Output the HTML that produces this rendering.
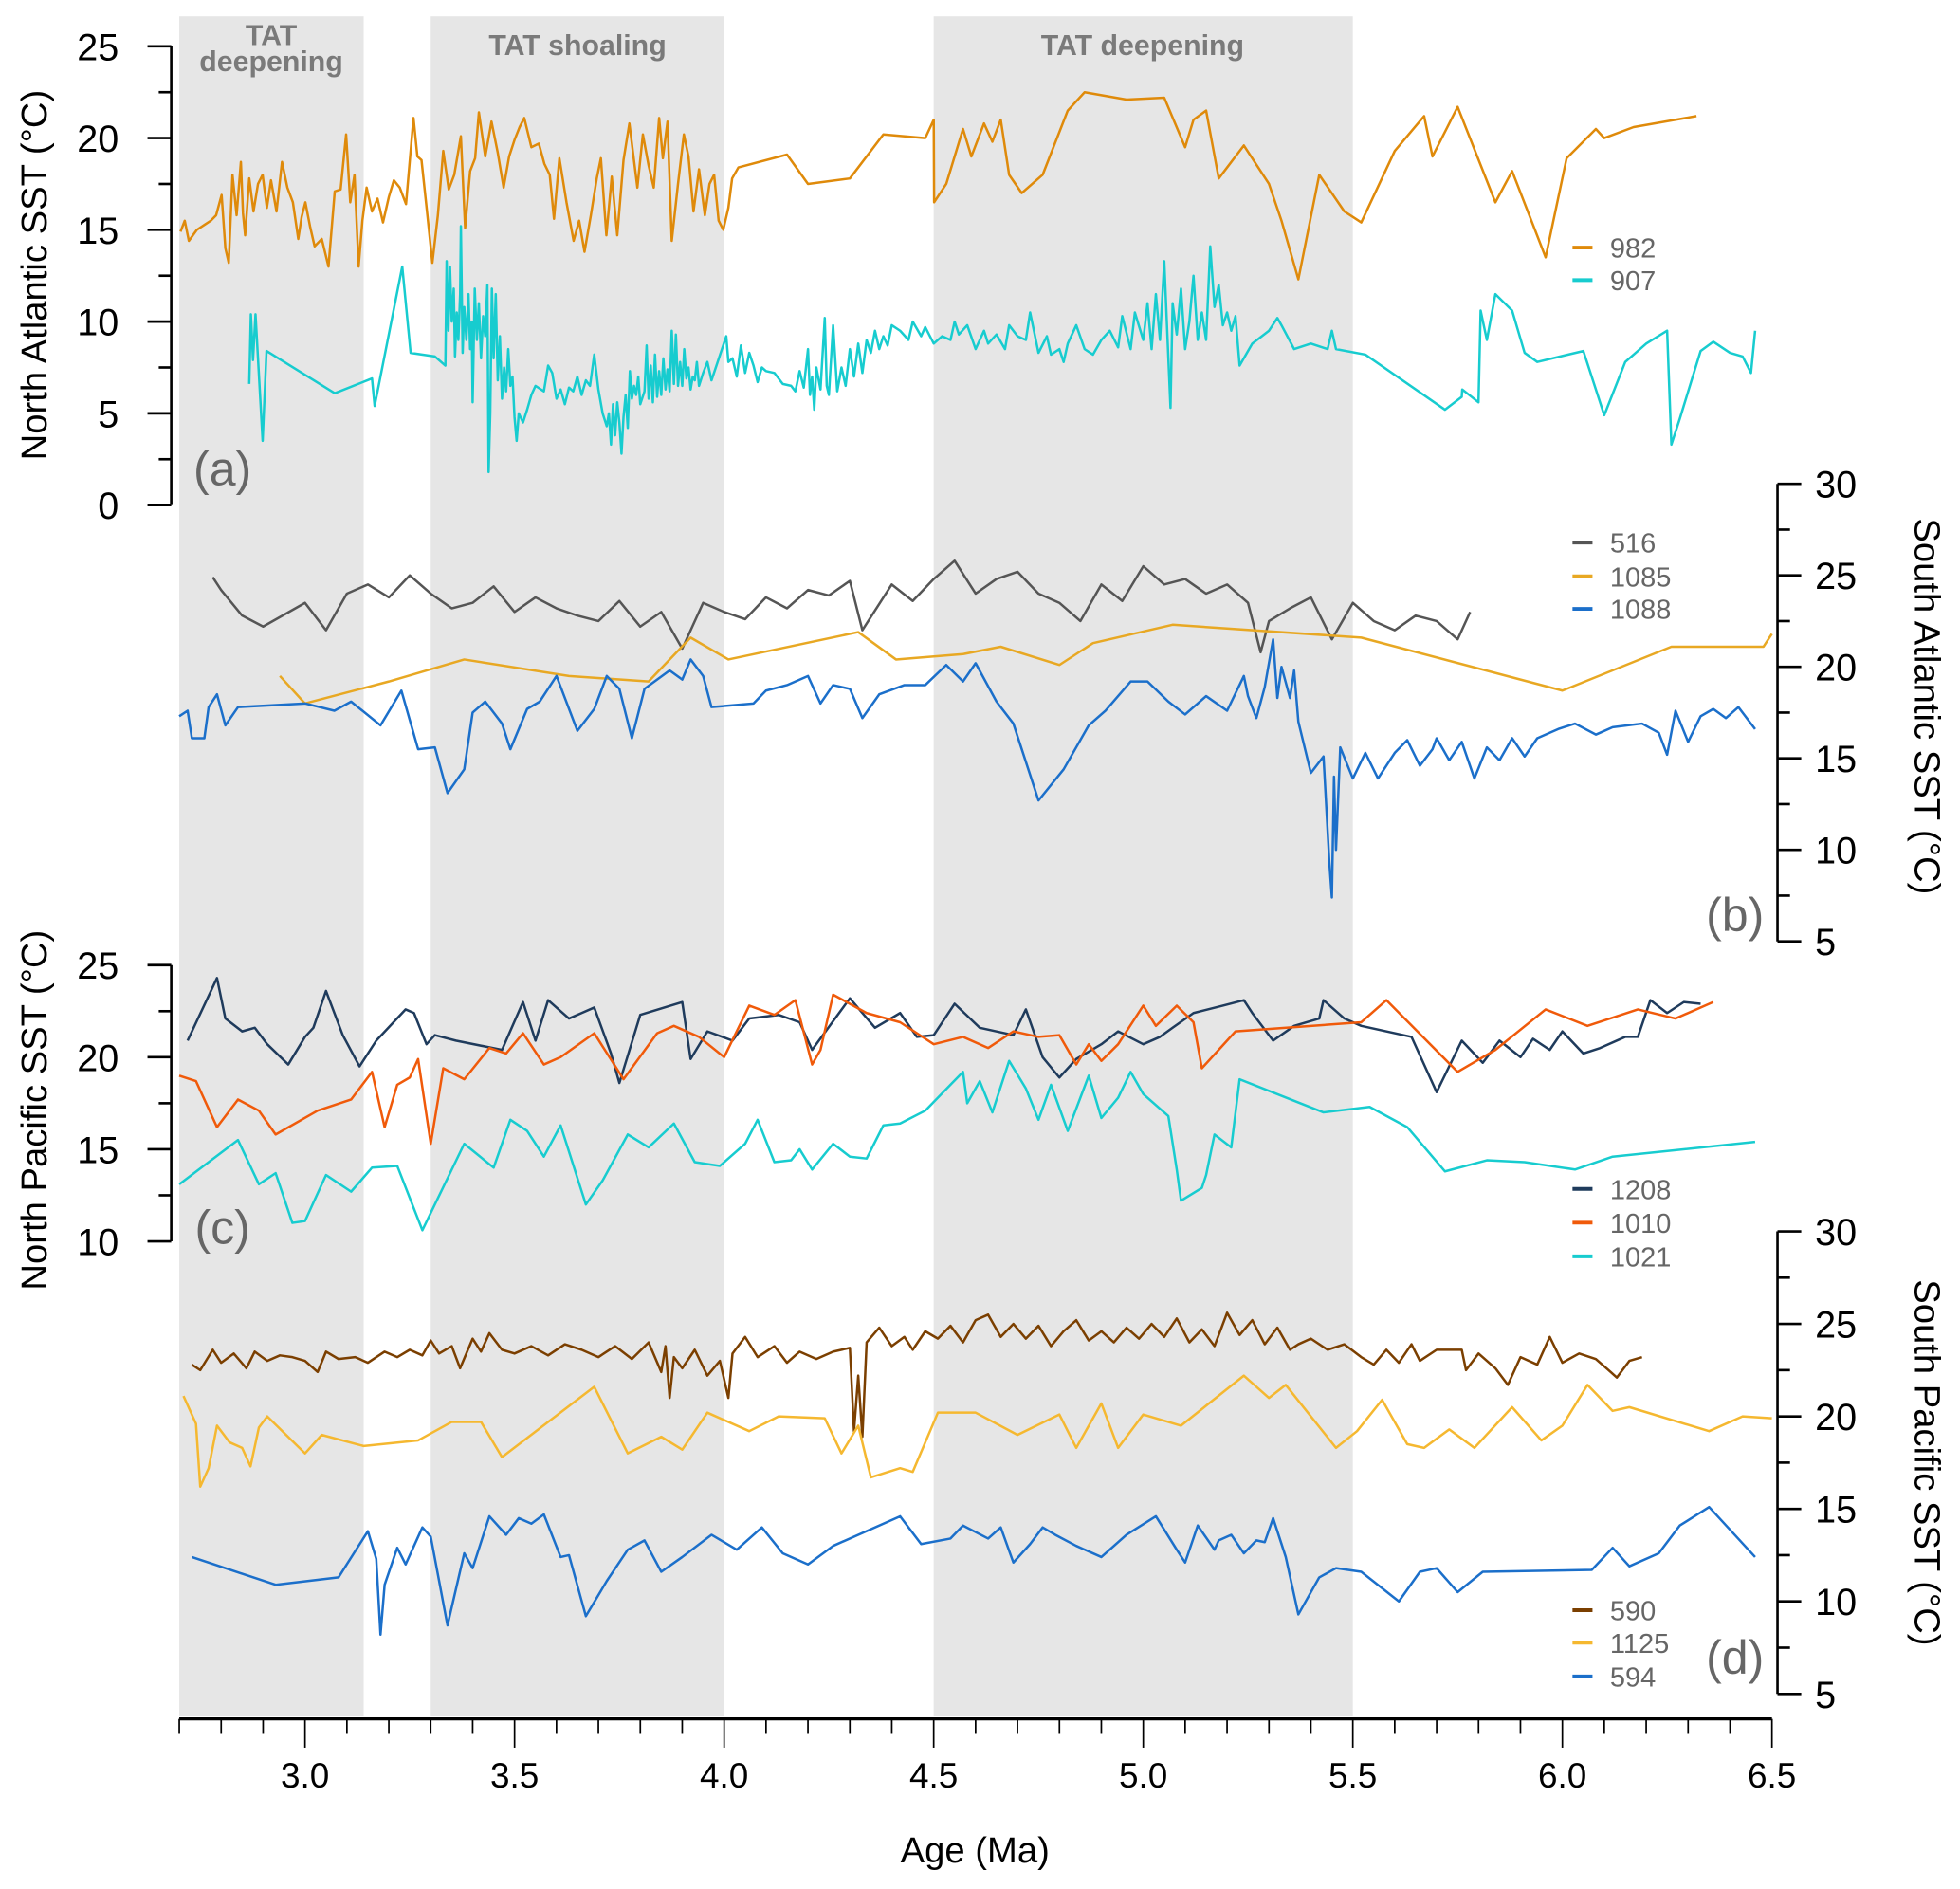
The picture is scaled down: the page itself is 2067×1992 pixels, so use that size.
<!DOCTYPE html>
<html><head><meta charset="utf-8">
<style>
html,body{margin:0;padding:0;background:#fff;}
svg{display:block;}
text{font-family:"Liberation Sans",sans-serif;}
</style></head>
<body>
<svg id="chart" width="2067" height="1992" viewBox="0 0 1568 1511" xmlns="http://www.w3.org/2000/svg">
<g id="shades"></g>
<g id="series"></g>
<g id="axes"></g>
<g id="labels"></g>
</svg>
<script>
// ---------- data ----------
const shadeStarts = [2.7, 3.3, 4.5];
const shadeEnds = [3.14, 4.0, 5.5];
const xTicksMajor = [3.0, 3.5, 4.0, 4.5, 5.0, 5.5, 6.0, 6.5];
const xTickLabels = ["3.0","3.5","4.0","4.5","5.0","5.5","6.0","6.5"];
const ticksA = [0,5,10,15,20,25];
const ticksB = [5,10,15,20,25,30];
const ticksC = [10,15,20,25];
const ticksD = [5,10,15,20,25,30];

const age982 = [2.703,2.713,2.723,2.742,2.762,2.775,2.788,2.801,2.81,2.818,2.827,2.837,2.847,2.852,2.857,2.867,2.877,2.888,2.899,2.909,2.919,2.932,2.945,2.958,2.971,2.984,2.992,3.001,3.012,3.023,3.04,3.056,3.071,3.085,3.098,3.108,3.118,3.128,3.137,3.147,3.16,3.173,3.186,3.2,3.212,3.226,3.241,3.259,3.268,3.278,3.291,3.304,3.317,3.330,3.343,3.356,3.372,3.382,3.394,3.406,3.415,3.43,3.445,3.46,3.474,3.487,3.500,3.512,3.523,3.54,3.558,3.571,3.584,3.594,3.607,3.624,3.641,3.654,3.667,3.682,3.696,3.706,3.719,3.732,3.745,3.76,3.774,3.793,3.806,3.82,3.832,3.845,3.854,3.865,3.875,3.89,3.904,3.915,3.927,3.94,3.954,3.965,3.976,3.987,3.998,4.01,4.019,4.034,4.15,4.2,4.3,4.38,4.48,4.5,4.501,4.53,4.57,4.59,4.62,4.64,4.66,4.68,4.71,4.76,4.82,4.86,4.96,5.05,5.1,5.12,5.15,5.18,5.24,5.3,5.33,5.37,5.42,5.48,5.52,5.6,5.67,5.69,5.75,5.84,5.88,5.96,6.01,6.08,6.1,6.17,6.32];
const val982 = [14.9,15.5,14.4,15.0,15.3,15.5,15.8,16.9,14.0,13.2,18.0,15.8,18.7,15.9,14.7,17.8,16.0,17.5,18.0,16.2,17.7,16.0,18.7,17.3,16.5,14.5,15.7,16.5,15.2,14.1,14.5,13.0,17.1,17.2,20.2,16.5,18.0,13.0,15.5,17.3,16.0,16.7,15.4,16.8,17.7,17.3,16.4,21.1,19.0,18.8,16.0,13.2,15.8,19.3,17.2,18.0,20.1,15.1,18.2,18.9,21.4,19.0,20.9,19.2,17.3,19.0,19.9,20.6,21.1,19.5,19.7,18.6,18.0,15.6,18.9,16.5,14.4,15.5,13.8,15.8,17.8,18.9,14.7,17.9,14.7,18.8,20.8,17.3,20.2,18.5,17.3,21.1,18.9,20.9,14.4,17.5,20.2,19.0,16.0,18.3,15.8,17.5,18.0,15.5,15.0,16.2,17.8,18.4,19.1,17.5,17.8,20.2,20.0,21.0,16.5,17.5,20.5,19.0,20.8,19.8,21.0,18.0,17.0,18.0,21.5,22.5,22.1,22.2,19.5,21.0,21.5,17.8,19.6,17.5,15.5,12.3,18.0,16.0,15.4,19.3,21.2,19.0,21.7,16.5,18.2,13.5,18.9,20.5,20.0,20.6,21.2];

const age907 = [2.867,2.871,2.876,2.882,2.899,2.908,3.071,3.16,3.166,3.232,3.252,3.31,3.335,3.338,3.342,3.346,3.35,3.355,3.358,3.362,3.366,3.370,3.372,3.376,3.38,3.385,3.39,3.394,3.398,3.40,3.405,3.41,3.415,3.42,3.425,3.43,3.435,3.438,3.442,3.446,3.45,3.455,3.46,3.465,3.47,3.475,3.48,3.485,3.49,3.495,3.50,3.505,3.51,3.52,3.53,3.54,3.55,3.57,3.58,3.59,3.60,3.61,3.62,3.63,3.64,3.65,3.66,3.67,3.68,3.69,3.70,3.71,3.72,3.725,3.73,3.735,3.74,3.745,3.75,3.755,3.76,3.765,3.77,3.775,3.78,3.785,3.79,3.795,3.80,3.81,3.815,3.82,3.825,3.83,3.835,3.84,3.845,3.85,3.855,3.86,3.865,3.87,3.875,3.88,3.885,3.89,3.895,3.90,3.905,3.91,3.915,3.92,3.925,3.93,3.935,3.94,3.95,3.96,3.97,4.005,4.01,4.02,4.03,4.04,4.05,4.06,4.07,4.08,4.09,4.10,4.12,4.14,4.16,4.17,4.18,4.19,4.20,4.205,4.21,4.215,4.22,4.23,4.24,4.245,4.25,4.26,4.27,4.28,4.29,4.30,4.31,4.32,4.33,4.34,4.35,4.36,4.37,4.38,4.39,4.40,4.42,4.44,4.45,4.47,4.48,4.50,4.52,4.54,4.55,4.56,4.58,4.60,4.62,4.63,4.65,4.67,4.68,4.70,4.72,4.73,4.75,4.77,4.78,4.80,4.81,4.82,4.84,4.86,4.88,4.90,4.92,4.94,4.95,4.97,4.98,5.00,5.01,5.02,5.03,5.04,5.05,5.06,5.065,5.07,5.08,5.09,5.10,5.11,5.12,5.13,5.14,5.15,5.16,5.17,5.18,5.19,5.20,5.21,5.22,5.23,5.26,5.30,5.32,5.33,5.36,5.40,5.44,5.45,5.46,5.53,5.72,5.76,5.761,5.80,5.805,5.82,5.84,5.88,5.91,5.94,6.05,6.10,6.15,6.20,6.25,6.26,6.28,6.33,6.36,6.40,6.43,6.45,6.46];
const val907 = [6.6,10.4,7.9,10.4,3.5,8.4,6.1,6.9,5.4,13.0,8.3,8.1,7.6,13.3,9.5,13.0,10.0,11.8,8.1,10.5,9.0,11.5,15.2,8.3,10.8,9.0,11.5,8.5,10.0,5.6,11.8,9.0,11.0,8.0,10.3,9.2,12.0,1.8,5.0,11.8,8.0,11.5,6.8,9.2,5.8,7.5,6.2,8.5,6.5,7.0,4.8,3.5,5.0,4.5,5.2,6.0,6.5,6.2,7.6,7.2,5.8,6.3,5.5,6.4,6.2,7.0,6.0,6.8,6.5,8.2,6.3,5.0,4.3,5.0,3.3,5.5,3.8,5.6,4.5,2.8,4.8,6.0,4.2,7.3,5.8,6.5,6.0,7.0,5.5,6.2,8.7,5.8,7.6,5.6,8.2,5.9,7.3,6.0,8.0,6.3,7.4,6.2,9.5,6.6,9.3,6.5,7.8,6.5,8.5,6.9,7.5,6.3,7.0,6.8,7.8,6.5,7.2,7.8,6.8,9.2,7.8,8.0,7.0,8.7,7.2,8.3,7.6,6.7,7.5,7.3,7.2,6.6,6.5,6.2,7.3,6.4,8.5,6.0,7.0,5.2,7.5,6.3,10.2,6.5,6.0,9.8,6.2,7.5,6.5,8.5,7.0,8.8,7.2,9.0,8.3,9.5,8.5,9.2,8.7,9.8,9.5,9.0,10.0,9.2,9.7,8.8,9.2,9.0,10.0,9.3,9.8,8.5,9.5,8.8,9.3,8.5,9.8,9.2,9.0,10.5,8.3,9.2,8.2,8.5,7.8,8.8,9.8,8.5,8.2,9.0,9.5,8.6,10.3,8.5,10.5,9.0,11.0,8.5,11.5,9.0,13.3,8.0,5.3,11.0,9.3,11.8,8.5,10.0,12.5,9.0,10.5,9.0,14.1,10.8,12.0,9.8,10.5,9.5,10.3,7.6,8.8,9.5,10.2,9.8,8.5,8.8,8.5,9.5,8.5,8.2,5.2,5.9,6.3,5.6,10.6,9.0,11.5,10.6,8.3,7.8,8.4,4.9,7.8,8.8,9.5,3.3,4.7,8.4,8.9,8.3,8.1,7.2,9.5];

const age516 = [2.78,2.8,2.85,2.9,3.0,3.05,3.1,3.15,3.2,3.25,3.3,3.35,3.4,3.45,3.5,3.55,3.6,3.65,3.7,3.75,3.8,3.85,3.9,3.95,4.0,4.05,4.1,4.15,4.2,4.25,4.3,4.33,4.4,4.45,4.5,4.55,4.6,4.65,4.7,4.75,4.8,4.85,4.9,4.95,5.0,5.05,5.1,5.15,5.2,5.25,5.28,5.3,5.35,5.4,5.45,5.5,5.55,5.6,5.65,5.7,5.75,5.78];
const val516 = [24.9,24.2,22.8,22.2,23.5,22.0,24.0,24.5,23.8,25.0,24.0,23.2,23.5,24.4,23.0,23.8,23.2,22.8,22.5,23.6,22.2,23.0,21.0,23.5,23.0,22.6,23.8,23.2,24.2,23.9,24.7,22.0,24.5,23.6,24.8,25.8,24.0,24.8,25.2,24.0,23.5,22.5,24.5,23.6,25.5,24.5,24.8,24.0,24.5,23.5,20.8,22.5,23.2,23.8,21.5,23.5,22.5,22.0,22.8,22.5,21.5,23.0];

const age1085 = [2.94,3.0,3.2,3.38,3.63,3.82,3.92,4.01,4.32,4.41,4.57,4.66,4.80,4.88,5.07,5.52,6.0,6.26,6.48,6.5];
const val1085 = [19.5,18.0,19.2,20.4,19.5,19.2,21.6,20.4,21.9,20.4,20.7,21.1,20.1,21.3,22.3,21.6,18.7,21.1,21.1,21.8];

const age1088 = [2.70,2.72,2.73,2.76,2.77,2.79,2.81,2.84,3.0,3.07,3.11,3.18,3.23,3.27,3.31,3.34,3.38,3.40,3.43,3.47,3.49,3.53,3.56,3.60,3.65,3.69,3.72,3.75,3.78,3.81,3.87,3.90,3.92,3.95,3.97,4.07,4.10,4.15,4.20,4.23,4.26,4.30,4.33,4.37,4.43,4.48,4.53,4.57,4.60,4.65,4.69,4.75,4.81,4.87,4.91,4.97,5.01,5.06,5.10,5.15,5.20,5.24,5.25,5.27,5.29,5.31,5.32,5.33,5.35,5.36,5.37,5.40,5.43,5.444,5.45,5.455,5.46,5.47,5.50,5.53,5.56,5.60,5.63,5.66,5.69,5.70,5.73,5.76,5.79,5.82,5.85,5.88,5.91,5.94,5.99,6.03,6.08,6.12,6.19,6.23,6.25,6.27,6.30,6.33,6.36,6.39,6.42,6.46];
const val1088 = [17.3,17.6,16.1,16.1,17.8,18.5,16.8,17.8,18.0,17.6,18.1,16.8,18.7,15.5,15.6,13.1,14.4,17.5,18.1,16.9,15.5,17.7,18.1,19.5,16.5,17.7,19.5,18.8,16.1,18.8,19.8,19.3,20.4,19.5,17.8,18.0,18.7,19.0,19.5,18.0,19.0,18.8,17.2,18.5,19.0,19.0,20.1,19.2,20.2,18.1,16.9,12.7,14.4,16.8,17.6,19.2,19.2,18.1,17.4,18.4,17.6,19.5,18.4,17.2,18.9,21.5,18.3,20.0,18.3,19.8,17.0,14.2,15.1,9.3,7.4,14.0,10.0,15.6,13.9,15.3,13.9,15.3,16.0,14.6,15.5,16.1,14.9,15.9,13.9,15.6,14.9,16.1,15.1,16.1,16.6,16.9,16.3,16.7,16.9,16.4,15.2,17.6,15.9,17.3,17.7,17.2,17.8,16.6];

const age1208 = [2.72,2.79,2.81,2.85,2.88,2.91,2.96,3.0,3.02,3.05,3.09,3.13,3.17,3.24,3.26,3.29,3.31,3.36,3.47,3.52,3.55,3.58,3.63,3.66,3.69,3.73,3.75,3.80,3.90,3.92,3.96,4.02,4.06,4.13,4.18,4.21,4.30,4.36,4.42,4.46,4.50,4.55,4.61,4.69,4.72,4.76,4.80,4.84,4.90,4.94,5.00,5.04,5.07,5.12,5.19,5.24,5.26,5.31,5.36,5.42,5.43,5.48,5.52,5.64,5.70,5.76,5.81,5.85,5.90,5.93,5.97,6.0,6.05,6.09,6.15,6.18,6.21,6.25,6.29,6.33];
const val1208 = [20.9,24.3,22.1,21.4,21.6,20.7,19.6,21.1,21.6,23.6,21.2,19.5,20.9,22.6,22.4,20.7,21.2,20.9,20.4,23.0,20.9,23.1,22.1,22.4,22.7,20.2,18.6,22.3,23.0,19.9,21.4,20.9,22.1,22.3,21.9,20.4,23.2,21.6,22.4,21.1,21.2,22.9,21.6,21.2,22.6,20.0,18.9,19.9,20.7,21.4,20.7,21.1,21.6,22.4,22.8,23.1,22.4,20.9,21.7,22.1,23.1,22.1,21.7,21.1,18.1,20.9,19.7,20.9,20.0,21.0,20.4,21.4,20.2,20.5,21.1,21.1,23.1,22.4,23.0,22.9];

const age1010 = [2.70,2.74,2.79,2.84,2.89,2.93,3.03,3.11,3.16,3.19,3.22,3.25,3.27,3.30,3.33,3.38,3.44,3.48,3.52,3.57,3.61,3.69,3.76,3.84,3.88,3.94,4.0,4.06,4.12,4.17,4.21,4.23,4.26,4.34,4.42,4.50,4.57,4.63,4.69,4.75,4.80,4.84,4.87,4.90,4.94,5.0,5.03,5.08,5.12,5.14,5.22,5.52,5.58,5.75,5.84,5.96,6.06,6.18,6.27,6.36];
const val1010 = [19.0,18.7,16.2,17.7,17.1,15.8,17.1,17.7,19.2,16.2,18.5,18.9,19.9,15.3,19.4,18.8,20.5,20.2,21.3,19.6,20.0,21.3,18.8,21.3,21.7,21.1,20.0,22.8,22.3,23.1,19.6,20.4,23.4,22.4,21.9,20.7,21.1,20.5,21.4,21.1,21.2,19.6,20.7,19.8,20.7,22.8,21.7,22.8,21.9,19.4,21.4,21.9,23.1,19.2,20.4,22.6,21.7,22.6,22.1,23.0];

const age1021 = [2.70,2.84,2.89,2.93,2.97,3.0,3.05,3.11,3.16,3.22,3.28,3.38,3.45,3.49,3.53,3.57,3.61,3.67,3.71,3.77,3.82,3.88,3.93,3.99,4.05,4.08,4.12,4.16,4.18,4.21,4.26,4.30,4.34,4.38,4.42,4.48,4.57,4.58,4.61,4.64,4.68,4.72,4.75,4.78,4.82,4.87,4.90,4.94,4.97,5.0,5.06,5.08,5.09,5.14,5.15,5.17,5.21,5.23,5.43,5.54,5.63,5.72,5.82,5.91,6.03,6.12,6.46];
const val1021 = [13.1,15.5,13.1,13.7,11.0,11.1,13.6,12.7,14.0,14.1,10.6,15.3,14.0,16.6,16.0,14.6,16.3,12.0,13.3,15.8,15.1,16.4,14.3,14.1,15.3,16.6,14.3,14.4,15.0,13.9,15.3,14.6,14.5,16.3,16.4,17.1,19.2,17.5,18.7,17.0,19.8,18.3,16.6,18.5,16.0,19.0,16.7,17.8,19.2,18.0,16.8,13.9,12.2,12.9,13.6,15.8,15.1,18.8,17.0,17.3,16.2,13.8,14.4,14.3,13.9,14.6,15.4];

const age590 = [2.73,2.75,2.78,2.80,2.83,2.86,2.88,2.91,2.94,2.97,3.0,3.03,3.05,3.08,3.12,3.15,3.19,3.22,3.25,3.28,3.30,3.32,3.35,3.37,3.40,3.42,3.44,3.47,3.50,3.54,3.58,3.62,3.66,3.70,3.74,3.78,3.82,3.85,3.86,3.87,3.88,3.90,3.93,3.96,3.99,4.01,4.02,4.05,4.08,4.12,4.15,4.18,4.22,4.26,4.30,4.31,4.32,4.33,4.34,4.37,4.40,4.43,4.45,4.48,4.51,4.54,4.57,4.60,4.63,4.66,4.69,4.72,4.75,4.78,4.81,4.84,4.87,4.90,4.93,4.96,4.99,5.02,5.05,5.08,5.11,5.14,5.17,5.20,5.23,5.26,5.29,5.32,5.35,5.37,5.40,5.44,5.48,5.52,5.55,5.58,5.61,5.64,5.66,5.70,5.73,5.76,5.77,5.80,5.84,5.87,5.90,5.94,5.97,6.0,6.04,6.08,6.11,6.13,6.16,6.19];
const val590 = [22.8,22.5,23.6,22.9,23.4,22.6,23.5,23.0,23.3,23.2,23.0,22.4,23.5,23.1,23.2,22.9,23.5,23.2,23.6,23.3,24.1,23.4,23.8,22.6,24.2,23.5,24.5,23.6,23.4,23.8,23.3,23.9,23.6,23.2,23.8,23.1,24.0,22.4,23.8,21.0,23.2,22.6,23.6,22.2,23.0,21.0,23.4,24.3,23.2,23.8,22.9,23.5,23.1,23.5,23.7,19.2,22.2,18.9,24.0,24.8,23.8,24.3,23.6,24.6,24.2,24.9,24.0,25.2,25.5,24.3,25.0,24.2,24.9,23.8,24.6,25.2,24.1,24.6,24.0,24.8,24.2,25.0,24.3,25.3,24.0,24.7,23.8,25.6,24.4,25.2,23.9,24.8,23.6,23.9,24.2,23.6,23.9,23.2,22.8,23.6,22.9,23.9,23.0,23.6,23.6,23.6,22.5,23.4,22.6,21.7,23.2,22.8,24.3,22.9,23.4,23.1,22.5,22.1,23.0,23.2];

const age1125 = [2.71,2.74,2.75,2.77,2.79,2.82,2.85,2.87,2.89,2.91,3.0,3.04,3.14,3.27,3.35,3.42,3.47,3.69,3.77,3.85,3.90,3.96,4.06,4.13,4.24,4.28,4.32,4.35,4.42,4.45,4.51,4.60,4.70,4.80,4.84,4.90,4.94,5.0,5.09,5.24,5.30,5.34,5.46,5.51,5.57,5.63,5.67,5.73,5.79,5.88,5.95,6.0,6.06,6.12,6.16,6.35,6.43,6.5];
const val1125 = [21.1,19.6,16.2,17.2,19.5,18.6,18.3,17.3,19.4,20.0,18.0,19.0,18.4,18.7,19.7,19.7,17.8,21.6,18.0,18.9,18.2,20.2,19.2,20.0,19.9,18.0,19.5,16.7,17.2,17.0,20.2,20.2,19.0,20.1,18.3,20.7,18.3,20.1,19.5,22.2,21.0,21.7,18.3,19.2,20.9,18.5,18.3,19.3,18.3,20.5,18.7,19.5,21.7,20.3,20.5,19.2,20.0,19.9];

const age594 = [2.73,2.93,3.08,3.15,3.17,3.18,3.19,3.22,3.24,3.28,3.30,3.34,3.38,3.40,3.44,3.48,3.51,3.54,3.57,3.61,3.63,3.67,3.72,3.77,3.81,3.85,3.90,3.97,4.03,4.09,4.14,4.20,4.26,4.42,4.47,4.54,4.57,4.63,4.66,4.69,4.73,4.76,4.79,4.84,4.90,4.96,5.03,5.08,5.10,5.13,5.17,5.18,5.21,5.24,5.27,5.29,5.31,5.34,5.37,5.42,5.46,5.52,5.61,5.66,5.70,5.75,5.81,6.07,6.12,6.16,6.23,6.28,6.35,6.46];
const val594 = [12.4,10.9,11.3,13.8,12.3,8.2,10.9,12.9,12.0,14.0,13.5,8.7,12.6,11.8,14.6,13.6,14.5,14.2,14.7,12.4,12.5,9.2,11.1,12.8,13.3,11.6,12.4,13.6,12.8,14.0,12.6,12.0,13.0,14.6,13.1,13.4,14.1,13.4,14.0,12.1,13.1,14.0,13.6,13.0,12.4,13.6,14.6,12.8,12.1,14.1,12.8,13.3,13.6,12.6,13.3,13.2,14.5,12.4,9.3,11.3,11.8,11.6,10.0,11.6,11.8,10.5,11.6,11.7,12.9,11.9,12.6,14.1,15.1,12.4];

// ---------- scales ----------
function xs(a){ return 244 + (a - 3.0) * 335.3; }
function ya(v){ return 404 - v * 14.68; }
function yb(v){ return 387 + (30 - v) * 14.64; }
function yc(v){ return 772 + (25 - v) * 14.73; }
function yd(v){ return 985 + (30 - v) * 14.8; }

const NS = "http://www.w3.org/2000/svg";
function mk(tag, attrs, parent){
  const e = document.createElementNS(NS, tag);
  for (const k in attrs) e.setAttribute(k, attrs[k]);
  parent.appendChild(e);
  return e;
}
const gShade = document.getElementById('shades');
const gSeries = document.getElementById('series');
const gAxes = document.getElementById('axes');
const gLab = document.getElementById('labels');

for (let i = 0; i < shadeStarts.length; i++){
  const r = mk('rect', {x: xs(shadeStarts[i]), y: 13, width: xs(shadeEnds[i]) - xs(shadeStarts[i]), height: 1360, fill: '#e6e6e6'}, gShade);
  
  
}
function shadeText(str, x, y, name){
  const t = mk('text', {x: x, y: y, 'text-anchor': 'middle', 'font-size': 23, 'font-weight': 'bold', fill: '#7a7a7a'}, gShade);
  t.textContent = str;
  
  
}
shadeText('TAT', 217, 36, 'tat-deepening-label-1');
shadeText('deepening', 217, 57, 'tat-deepening-label-1b');
shadeText('TAT shoaling', 462, 44, 'tat-shoaling-label');
shadeText('TAT deepening', 914, 44, 'tat-deepening-label-2');

function drawSeries(ages, vals, yfn, color, name){
  let d = '';
  for (let i = 0; i < ages.length; i++){
    d += (i ? 'L' : 'M') + xs(ages[i]).toFixed(1) + ' ' + yfn(vals[i]).toFixed(1);
  }
  const p = mk('path', {d: d, fill: 'none', stroke: color, 'stroke-width': 1.9, 'stroke-linejoin': 'round'}, gSeries);
  
  
}
drawSeries(age982, val982, ya, '#df8a0a', 'series-982');
drawSeries(age907, val907, ya, '#17cccf', 'series-907');
drawSeries(age516, val516, yb, '#555555', 'series-516');
drawSeries(age1085, val1085, yb, '#e8a823', 'series-1085');
drawSeries(age1088, val1088, yb, '#1b6fca', 'series-1088');
drawSeries(age1208, val1208, yc, '#1f3b5c', 'series-1208');
drawSeries(age1010, val1010, yc, '#f05a0a', 'series-1010');
drawSeries(age1021, val1021, yc, '#17cccf', 'series-1021');
drawSeries(age590, val590, yd, '#7b3f00', 'series-590');
drawSeries(age1125, val1125, yd, '#f5b830', 'series-1125');
drawSeries(age594, val594, yd, '#1b6fca', 'series-594');

function yAxis(ticks, yfn, x, side, name, minorStep){
  const lo = ticks[0], hi = ticks[ticks.length - 1];
  const ax = mk('line', {x1: x, x2: x, y1: yfn(hi), y2: yfn(lo), stroke: '#000', 'stroke-width': 2}, gAxes);
  
  
  for (let v = lo; v <= hi + 0.001; v += minorStep){
    const major = Math.abs(v / 5 - Math.round(v / 5)) < 0.01;
    const len = major ? 19 : 10;
    const x2 = side === 'left' ? x - len : x + len;
    mk('line', {x1: x, x2: x2, y1: yfn(v), y2: yfn(v), stroke: '#000', 'stroke-width': 2}, gAxes);
  }
  ticks.forEach(function(v){
    const t = mk('text', {x: side === 'left' ? x - 42 : x + 30, y: yfn(v) + 11, 'text-anchor': side === 'left' ? 'end' : 'start', 'font-size': 30, fill: '#000'}, gAxes);
    t.textContent = String(v);
    
    
  });
}
yAxis(ticksA, ya, 137, 'left', 'y-axis-a', 2.5);
yAxis(ticksB, yb, 1422, 'right', 'y-axis-b', 2.5);
yAxis(ticksC, yc, 137, 'left', 'y-axis-c', 2.5);
yAxis(ticksD, yd, 1422, 'right', 'y-axis-d', 2.5);

const xl = mk('line', {x1: xs(2.7), x2: xs(6.5), y1: 1375, y2: 1375, stroke: '#000', 'stroke-width': 2.5}, gAxes);


for (let k = 27; k <= 65; k++){
  const a = k / 10;
  const major = k % 5 === 0;
  mk('line', {x1: xs(a), x2: xs(a), y1: 1375, y2: major ? 1398 : 1387, stroke: '#000', 'stroke-width': 1.3}, gAxes);
}
xTicksMajor.forEach(function(a, i){
  const t = mk('text', {x: xs(a), y: 1430, 'text-anchor': 'middle', 'font-size': 28, fill: '#000'}, gAxes);
  t.textContent = xTickLabels[i];
  
  
});

function title(str, x, y, rot, name){
  const t = mk('text', {x: x, y: y, 'text-anchor': 'middle', 'font-size': 29, fill: '#000', transform: 'rotate(' + rot + ' ' + x + ' ' + y + ')'}, gLab);
  t.textContent = str;
  
  
}
title('North Atlantic SST (°C)', 37, 220, -90, 'y-axis-title-a');
title('South Atlantic SST (°C)', 1532, 565, 90, 'y-axis-title-b');
title('North Pacific SST (°C)', 37, 888, -90, 'y-axis-title-c');
title('South Pacific SST (°C)', 1532, 1170, 90, 'y-axis-title-d');
title('Age (Ma)', 780, 1490, 0, 'x-axis-title');

function panel(str, x, y, name){
  const t = mk('text', {x: x, y: y, 'text-anchor': 'middle', 'font-size': 38, fill: '#666'}, gLab);
  t.textContent = str;
  
  
}
panel('(a)', 178, 388, 'panel-label-a');
panel('(b)', 1388, 745, 'panel-label-b');
panel('(c)', 178, 995, 'panel-label-c');
panel('(d)', 1388, 1339, 'panel-label-d');

function legend(str, y, color){
  const l = mk('line', {x1: 1258, x2: 1274, y1: y, y2: y, stroke: color, 'stroke-width': 3}, gLab);
  
  
  const t = mk('text', {x: 1288, y: y + 8, 'font-size': 22, fill: '#666'}, gLab);
  t.textContent = str;
  
  
}
legend('982', 198, '#df8a0a');
legend('907', 224, '#17cccf');
legend('516', 434, '#555555');
legend('1085', 461, '#e8a823');
legend('1088', 487, '#1b6fca');
legend('1208', 951, '#1f3b5c');
legend('1010', 978, '#f05a0a');
legend('1021', 1005, '#17cccf');
legend('590', 1288, '#7b3f00');
legend('1125', 1314, '#f5b830');
legend('594', 1341, '#1b6fca');
</script>
</body></html>
